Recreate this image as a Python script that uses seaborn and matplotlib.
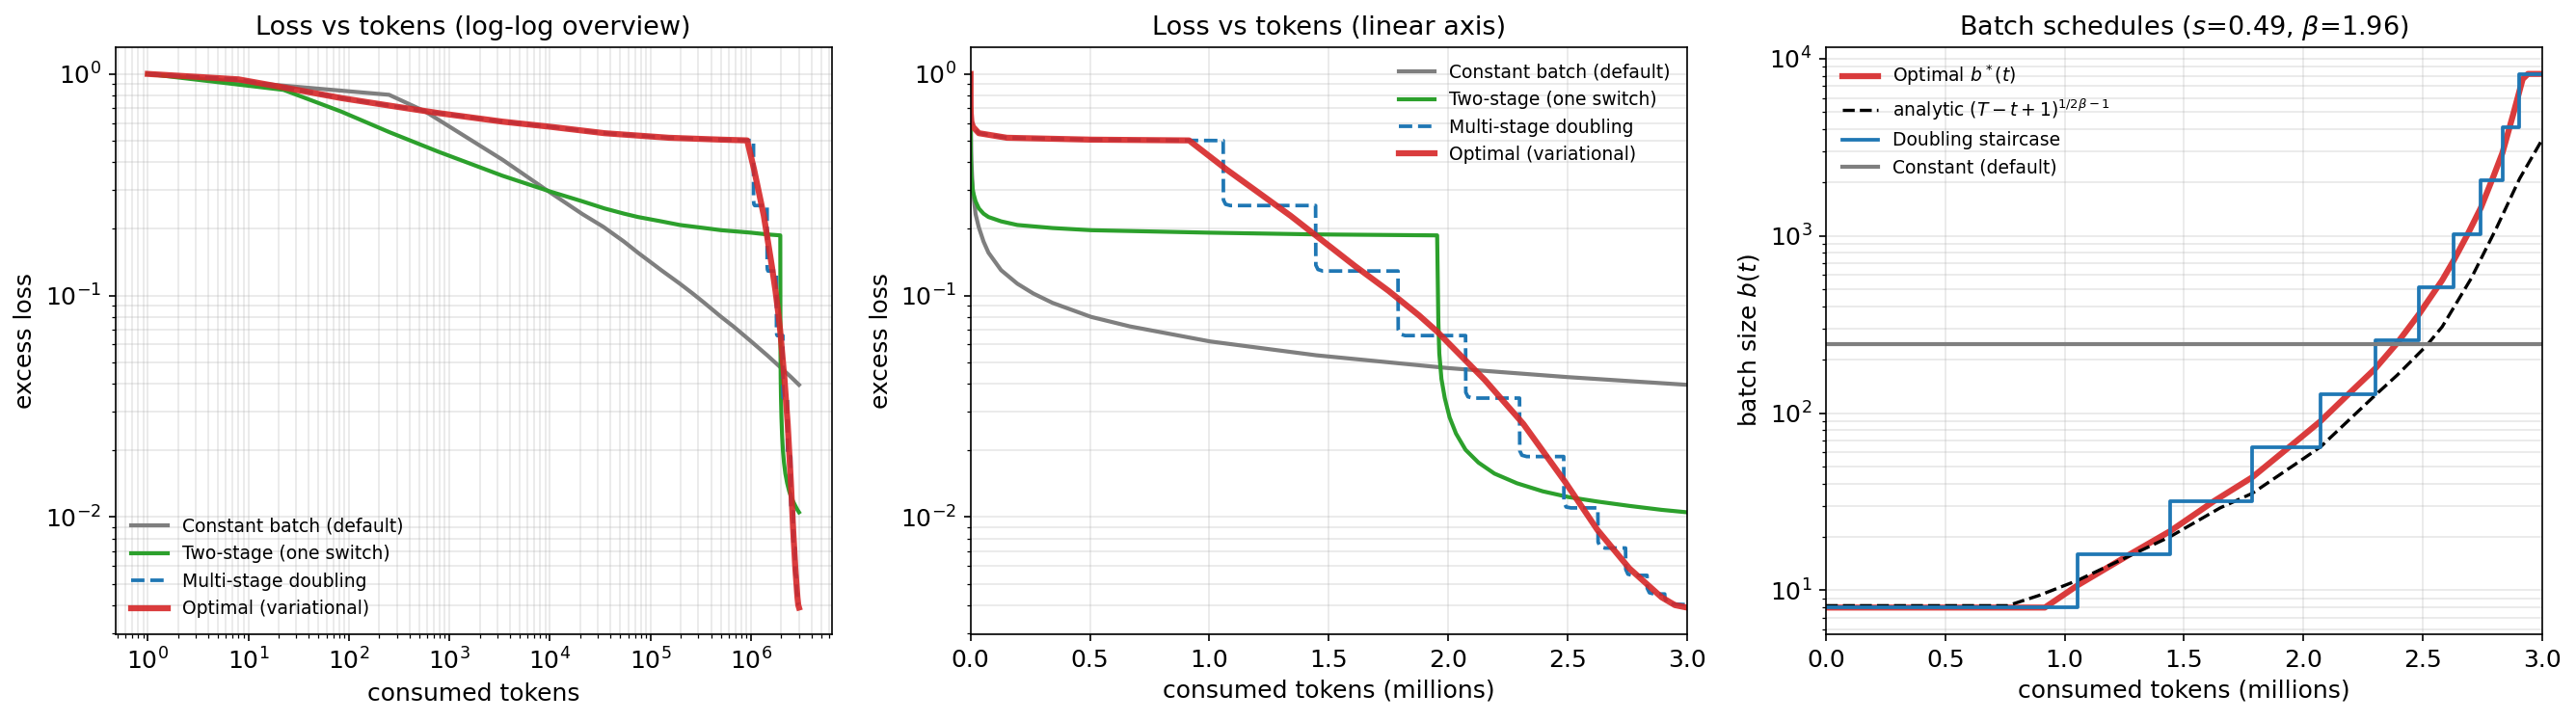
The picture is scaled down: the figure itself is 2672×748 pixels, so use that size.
import numpy as np
import pandas as pd
import matplotlib
matplotlib.use("Agg")
import matplotlib.pyplot as plt
import seaborn as sns

# ---- loss curves (x in consumed tokens) ----
const_tokens = [1, 251, 574, 3370, 8770, 21000, 34000, 54500, 75000, 128000, 196000,
                263000, 344000, 505000, 667000, 1003000, 1447000, 2000000, 2500000, 3000000]
const_loss = [1.0, 0.805, 0.677, 0.41, 0.304, 0.233, 0.204, 0.175, 0.156, 0.130, 0.113,
              0.102, 0.0925, 0.0800, 0.0725, 0.0620, 0.0537, 0.0470, 0.0428, 0.0395]

two_tokens = [1, 22.4, 84, 255, 771, 3370, 10180, 21000, 34900, 54500, 75000, 128000,
              196000, 344000, 505000, 1003000, 1447000, 1954000, 1959000, 1963000,
              1972000, 1986000, 2006000, 2033000, 2073000, 2127000, 2194000, 2288000,
              2396000, 2504000, 2625000, 2759000, 2894000, 3000000]
two_loss = [1.0, 0.847, 0.676, 0.545, 0.446, 0.347, 0.294, 0.266, 0.247, 0.234, 0.226, 0.216,
            0.208, 0.2015, 0.197, 0.192, 0.1886, 0.1867, 0.0766, 0.0548,
            0.042, 0.0344, 0.0282, 0.0238, 0.0201, 0.0176, 0.0157, 0.0142,
            0.01306, 0.0123, 0.01174, 0.01122, 0.01077, 0.0105]

multi_tokens = [1, 8, 22.4, 84, 255, 771, 3370, 10180, 34900, 152000, 505000, 915000,
                1058000, 1059000, 1068000, 1088000,
                1445000, 1446000, 1455000, 1475000,
                1790000, 1791000, 1800000, 1820000,
                2073000, 2074000, 2083000, 2103000,
                2299000, 2300000, 2309000, 2329000,
                2484000, 2485000, 2494000, 2514000,
                2627000, 2628000, 2637000, 2657000,
                2743000, 2744000, 2753000, 2773000,
                2833000, 2834000, 2843000, 2863000,
                2907000, 2908000, 2917000, 2937000, 3000000]
multi_loss = [1.0, 0.945, 0.869, 0.778, 0.719, 0.666, 0.609, 0.577, 0.54, 0.515, 0.505, 0.501,
              0.500, 0.270, 0.258, 0.2546,
              0.2546, 0.137, 0.131, 0.1289,
              0.1289, 0.070, 0.0669, 0.0659,
              0.0659, 0.0365, 0.0349, 0.0344,
              0.0344, 0.0199, 0.0190, 0.01874,
              0.01874, 0.0117, 0.0111, 0.01099,
              0.01099, 0.0077, 0.00734, 0.00724,
              0.00724, 0.0058, 0.00552, 0.00545,
              0.00545, 0.00476, 0.00455, 0.00449,
              0.00449, 0.0043, 0.00410, 0.00405, 0.00402]

opt_tokens = [1, 8, 22.4, 84, 255, 771, 3370, 10180, 34900, 152000, 505000, 915000,
              1071000, 1340000, 1609000, 1750000, 1878000, 1952000, 2154000, 2315000,
              2490000, 2625000, 2759000, 2894000, 2950000, 3000000]
opt_loss = [1.0, 0.945, 0.869, 0.778, 0.719, 0.666, 0.609, 0.577, 0.54, 0.515, 0.505, 0.501,
            0.371, 0.229, 0.136, 0.105, 0.0813, 0.069, 0.0415, 0.0263,
            0.0144, 0.00875, 0.00586, 0.00434, 0.0040, 0.0039]

# ---- batch schedules (x in millions of tokens) ----
opt_sched_m = [0, 0.917, 1.055, 1.274, 1.442, 1.624, 1.786, 1.975, 2.072, 2.204, 2.300,
               2.393, 2.484, 2.581, 2.628, 2.689, 2.743, 2.797, 2.833, 2.878, 2.918, 2.940, 3.0]
opt_batch = [8, 8, 10.7, 16.0, 21.6, 31.8, 43.5, 70.3, 90.2, 134, 178,
             249, 362, 562, 722, 1030, 1440, 2190, 2930, 4830, 7660, 8192, 8192]

analytic_m = [0, 0.761, 0.896, 1.055, 1.247, 1.442, 1.651, 1.786, 1.975, 2.072, 2.200,
              2.300, 2.393, 2.514, 2.581, 2.702, 2.810, 2.905, 3.0]
analytic_batch = [8.2, 8.2, 9.4, 11.4, 15.1, 20.1, 29.2, 35.3, 52.5, 64.6, 94,
                  126, 164, 239, 307, 574, 1120, 2100, 3500]

stair_m = [0, 1.055, 1.442, 1.786, 2.072, 2.300, 2.484, 2.628, 2.743, 2.833, 2.905, 3.0]
stair_batch = [8, 16, 32, 64, 128, 256, 512, 1024, 2048, 4096, 8192, 8192]

const_m = [0, 3.0]
const_batch = [246, 246]

GRAY, GREEN, BLUE, RED = "tab:gray", "tab:green", "tab:blue", "tab:red"

plt.rcParams["xtick.labelsize"] = 12
plt.rcParams["ytick.labelsize"] = 12

loss_series = [
    ("Constant batch (default)", const_tokens, const_loss, dict(color=GRAY, lw=2)),
    ("Two-stage (one switch)", two_tokens, two_loss, dict(color=GREEN, lw=2)),
    ("Multi-stage doubling", multi_tokens, multi_loss, dict(color=BLUE, lw=1.8, linestyle="--")),
    ("Optimal (variational)", opt_tokens, opt_loss, dict(color=RED, lw=3, alpha=0.9)),
]

fig, axes = plt.subplots(1, 3, figsize=(2672 / 150, 748 / 150), dpi=150)
fig.subplots_adjust(left=119.5 / 2672, right=2637 / 2672, bottom=90 / 748, top=699 / 748,
                    wspace=0.194)

# panel 1: log-log overview
ax = axes[0]
for label, x, y, kw in loss_series:
    sns.lineplot(x=np.array(x, float), y=y, ax=ax, label=label, estimator=None, sort=False, **kw)
ax.set_xscale("log")
ax.set_yscale("log")
ax.set_xlabel("consumed tokens", fontsize=12)
ax.set_ylabel("excess loss", fontsize=12)
ax.set_title("Loss vs tokens (log-log overview)", fontsize=13)
ax.grid(True, which="both", alpha=0.3)
ax.legend(loc="lower left", frameon=False, fontsize=9)

# panel 2: linear token axis
ax = axes[1]
for label, x, y, kw in loss_series:
    sns.lineplot(x=np.array(x, float) / 1e6, y=y, ax=ax, label=label, estimator=None, sort=False, **kw)
ax.set_yscale("log")
ax.set_xlim(0, 3.0)
ax.set_xlabel("consumed tokens (millions)", fontsize=12)
ax.set_ylabel("excess loss", fontsize=12)
ax.set_title("Loss vs tokens (linear axis)", fontsize=13)
ax.grid(True, which="both", alpha=0.3)
ax.legend(loc="upper right", frameon=False, fontsize=9)

# panel 3: batch schedules
ax = axes[2]
sns.lineplot(x=opt_sched_m, y=opt_batch, ax=ax, color=RED, lw=3, alpha=0.9,
             label=r"Optimal $b^*(t)$", estimator=None, sort=False)
sns.lineplot(x=analytic_m, y=analytic_batch, ax=ax, color="black", lw=1.6, linestyle="--",
             label=r"analytic $(T-t+1)^{1/2\beta-1}$", estimator=None, sort=False)
sns.lineplot(x=stair_m, y=stair_batch, ax=ax, color=BLUE, lw=1.8, drawstyle="steps-post",
             label="Doubling staircase", estimator=None, sort=False)
sns.lineplot(x=const_m, y=const_batch, ax=ax, color=GRAY, lw=2,
             label="Constant (default)", estimator=None, sort=False)
ax.set_yscale("log")
ax.set_xlim(0, 3.0)
ax.set_xlabel("consumed tokens (millions)", fontsize=12)
ax.set_ylabel(r"batch size $b(t)$", fontsize=12)
ax.set_title(r"Batch schedules ($s$=0.49, $\beta$=1.96)", fontsize=13)
ax.grid(True, which="both", alpha=0.3)
ax.legend(loc="upper left", frameon=False, fontsize=9)

fig.savefig("out.png", dpi=150)
